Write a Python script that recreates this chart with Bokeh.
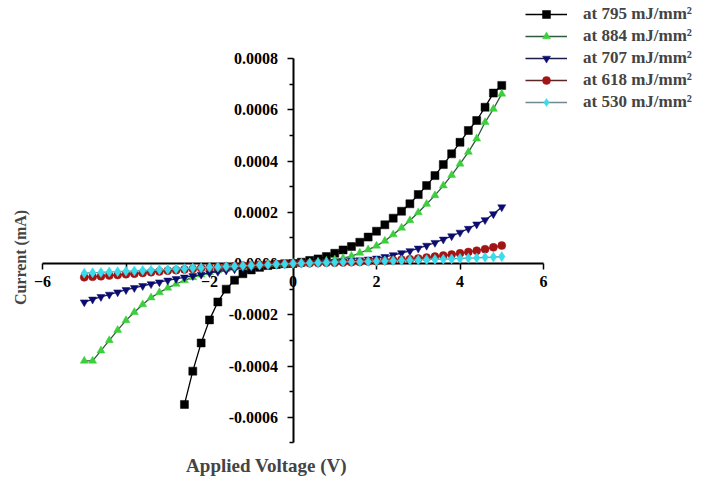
from bokeh.plotting import figure
from bokeh.models import Range1d, FixedTicker, Legend, LegendItem, Label, NumeralTickFormatter
from bokeh.embed import file_html
from bokeh.resources import INLINE

# ---------------- data ----------------
V_FULL = [-5.0, -4.8, -4.6, -4.4, -4.2, -4.0, -3.8, -3.6, -3.4, -3.2, -3.0, -2.8, -2.6,
          -2.4, -2.2, -2.0, -1.8, -1.6, -1.4, -1.2, -1.0, -0.8, -0.6, -0.4, -0.2, 0.0,
          0.2, 0.4, 0.6, 0.8, 1.0, 1.2, 1.4, 1.6, 1.8, 2.0, 2.2, 2.4, 2.6, 2.8, 3.0,
          3.2, 3.4, 3.6, 3.8, 4.0, 4.2, 4.4, 4.6, 4.8, 5.0]
V_795 = [-2.6, -2.4, -2.2, -2.0, -1.8, -1.6, -1.4, -1.2, -1.0, -0.8, -0.6, -0.4, -0.2, 0.0,
         0.2, 0.4, 0.6, 0.8, 1.0, 1.2, 1.4, 1.6, 1.8, 2.0, 2.2, 2.4, 2.6, 2.8, 3.0,
         3.2, 3.4, 3.6, 3.8, 4.0, 4.2, 4.4, 4.6, 4.8, 5.0]

I_795 = [-0.00055, -0.00042, -0.00031, -0.00022, -0.00015, -0.0001, -0.000065, -0.00004,
         -0.000025, -0.000015, -0.000008, -0.000004, -0.000001, 0.0,
         0.000005, 0.000012, 0.000018, 0.000027, 0.00004, 0.000053, 0.000066, 0.000083,
         0.000103, 0.000126, 0.000151, 0.000177, 0.000204, 0.000233, 0.000269, 0.000304,
         0.000343, 0.000386, 0.000428, 0.000473, 0.000519, 0.000558, 0.00061, 0.000665, 0.000695]

I_884 = [-0.00038, -0.00038, -0.00034, -0.0003, -0.00026, -0.000222, -0.00019, -0.00016,
         -0.000133, -0.000113, -0.000095, -0.00008, -0.000066, -0.000054, -0.000044,
         -0.000035, -0.000028, -0.000022, -0.000016, -0.000012, -0.000008, -0.000005,
         -0.000003, -0.000002, -0.000001, 0.0,
         0.000001, 0.000003, 0.000006, 0.00001, 0.000015, 0.000021, 0.000029, 0.000041,
         0.000054, 0.000069, 0.000088, 0.000113, 0.000139, 0.000168, 0.000199, 0.000232,
         0.000266, 0.000304, 0.000345, 0.000389, 0.000435, 0.000487, 0.000551, 0.000603, 0.000662]

I_707 = [-0.000151, -0.00014, -0.00013, -0.000121, -0.000112, -0.000103, -0.000095, -0.000087,
         -0.00008, -0.000073, -0.000066, -0.00006, -0.000054, -0.000048, -0.000043, -0.000037,
         -0.000032, -0.000027, -0.000022, -0.000018, -0.000014, -0.00001, -0.000007, -0.000004,
         -0.000002, 0.0,
         0.000001, 0.000002, 0.000003, 0.000005, 0.000007, 0.000009, 0.000011, 0.000013,
         0.000016, 0.00002, 0.000026, 0.000033, 0.000041, 0.000049, 0.000059, 0.00007,
         0.000081, 0.000094, 0.000107, 0.000121, 0.000136, 0.000153, 0.00017, 0.000193, 0.00022]

I_618 = [-0.000054, -0.000052, -0.00005, -0.000047, -0.000045, -0.000042, -0.00004, -0.000037,
         -0.000034, -0.000031, -0.000028, -0.000026, -0.000023, -0.000021, -0.000018, -0.000016,
         -0.000014, -0.000012, -0.00001, -0.000008, -0.000007, -0.000005, -0.000004, -0.000002,
         -0.000001, 0.0,
         0.000001, 0.000001, 0.000002, 0.000003, 0.000003, 0.000004, 0.000005, 0.000006,
         0.000008, 0.000009, 0.000011, 0.000013, 0.000015, 0.000017, 0.00002, 0.000023,
         0.000027, 0.000031, 0.000035, 0.00004, 0.000045, 0.00005, 0.000056, 0.000063, 0.00007]

I_530 = [-0.000038, -0.000036, -0.000035, -0.000033, -0.000032, -0.00003, -0.000029, -0.000027,
         -0.000026, -0.000024, -0.000023, -0.000021, -0.00002, -0.000018, -0.000017, -0.000015,
         -0.000014, -0.000012, -0.000011, -0.000009, -0.000008, -0.000006, -0.000005, -0.000003,
         -0.000002, 0.0,
         0.000001, 0.000002, 0.000003, 0.000004, 0.000005, 0.000006, 0.000007, 0.000007,
         0.000008, 0.000009, 0.00001, 0.000011, 0.000012, 0.000013, 0.000014, 0.000015,
         0.000016, 0.000017, 0.000018, 0.00002, 0.000021, 0.000022, 0.000024, 0.000025, 0.000027]

SERIES_LABELS = ["at 795 mJ/mm\u00b2", "at 884 mJ/mm\u00b2", "at 707 mJ/mm\u00b2",
                 "at 618 mJ/mm\u00b2", "at 530 mJ/mm\u00b2"]
X_TICKS = [-6, -4, -2, 0, 2, 4, 6]
Y_TICKS = [-0.0006, -0.0004, -0.0002, 0.0, 0.0002, 0.0004, 0.0006, 0.0008]
X_TITLE = "Applied Voltage (V)"
Y_TITLE = "Current (mA)"

# ---------------- layout ----------------
W, H = 700, 478
PX_PER_V = 41.75
PX_PER_A = 256250.0
X0_SCREEN = 42.0    # canvas x of V = -6
Y0_SCREEN = 263.0   # canvas y of I = 0

x_start = -6 - X0_SCREEN / PX_PER_V
x_end = x_start + W / PX_PER_V
y_end = Y0_SCREEN / PX_PER_A
y_start = -(H - Y0_SCREEN) / PX_PER_A


def sx(px):
    return x_start + px / PX_PER_V


def sy(py):
    return (Y0_SCREEN - py) / PX_PER_A


FONT = "Liberation Serif"

p = figure(width=W, height=H, output_backend="svg", toolbar_location=None,
           x_range=Range1d(x_start, x_end), y_range=Range1d(y_start, y_end),
           min_border=0, min_border_left=0, min_border_right=0,
           min_border_top=0, min_border_bottom=0)
p.outline_line_color = None
p.xgrid.visible = False
p.ygrid.visible = False
p.background_fill_color = "white"
p.border_fill_color = "white"

# axes crossing at zero
xa = p.xaxis[0]
ya = p.yaxis[0]
xa.fixed_location = 0
ya.fixed_location = 0
xa.bounds = (-6, 6)
ya.bounds = (-0.0007, 0.0008)
xa.ticker = FixedTicker(ticks=X_TICKS, minor_ticks=[])
ya.ticker = FixedTicker(ticks=Y_TICKS,
                        minor_ticks=[-0.0007, -0.0005, -0.0003, -0.0001, 0.0001, 0.0003, 0.0005, 0.0007])
xa.major_label_overrides = {-4: ""}
ya.formatter = NumeralTickFormatter(format="0.0000")
for ax in (xa, ya):
    ax.axis_line_width = 2
    ax.axis_line_color = "black"
    ax.major_tick_line_width = 1.5
    ax.minor_tick_line_width = 1.5
    ax.major_tick_in = 0
    ax.major_tick_out = 6
    ax.minor_tick_in = 0
    ax.minor_tick_out = 4
    ax.major_label_text_font = FONT
    ax.major_label_text_font_style = "bold"
    ax.major_label_text_font_size = "16px"
    ax.major_label_text_color = "black"
    ax.level = "underlay"
xa.major_label_standoff = 6
ya.major_label_standoff = 9

# ---------------- series ----------------
specs = [
    (V_795, I_795, "#000000", "#000000", "square"),
    (V_FULL, I_884, "#2f5a3c", "#3ccf3c", "triangle"),
    (V_FULL, I_707, "#1c1c4a", "#0c0c70", "inverted_triangle"),
    (V_FULL, I_618, "#5a2626", "#a31414", "circle"),
    (V_FULL, I_530, "#6e8a90", "#38dcec", "diamond"),
]
items = []
for (vx, iy, lc, mc, mk), lab in zip(specs, SERIES_LABELS):
    r_line = p.line(vx, iy, line_color=lc, line_width=1.3)
    size = 10 if mk == "diamond" else 8
    r_mark = p.scatter(vx, iy, marker=mk, size=size, fill_color=mc, line_color=mc, line_width=0.5)
    items.append(LegendItem(label=lab, renderers=[r_line, r_mark]))

legend = Legend(items=items, location=(525, H - 112), margin=0, padding=0, spacing=2,
                glyph_width=42, glyph_height=20, label_height=20, label_standoff=16,
                label_text_font=FONT, label_text_font_style="bold",
                label_text_font_size="17px", border_line_color=None,
                background_fill_alpha=0)
p.add_layout(legend)

# axis titles
p.add_layout(Label(x=sx(20), y=sy(257), text=Y_TITLE, angle=1.5707963,
                   text_align="center", text_baseline="middle", text_font=FONT,
                   text_font_style="bold", text_font_size="16px"))
p.add_layout(Label(x=sx(266), y=sy(465), text=X_TITLE,
                   text_align="center", text_baseline="middle", text_font=FONT,
                   text_font_style="bold", text_font_size="19px"))

open("out.html", "w").write(file_html(p, INLINE))
